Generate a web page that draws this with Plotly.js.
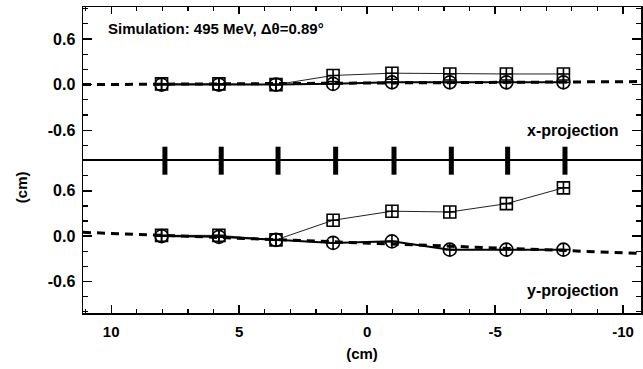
<!DOCTYPE html>
<html>
<head>
<meta charset="utf-8">
<script src="https://cdn.plot.ly/plotly-3.0.1.min.js"></script>
<style>html,body{margin:0;padding:0;background:#fff;}#chart{width:643px;height:369px;}</style>
</head>
<body>
<div id="chart"></div>
<script>
// Positions along beam (cm)
const posX = [8.03, 5.79, 3.56, 1.33, -0.97, -3.23, -5.44, -7.67];
const detectorX = [7.9, 5.7, 3.48, 1.23, -1.05, -3.29, -5.49, -7.73];

// x-projection (top panel)
const xprojSquares = [0.01, 0.01, 0.0, 0.12, 0.15, 0.14, 0.14, 0.14];
const xprojCircles = [0.0, 0.0, 0.0, 0.01, 0.03, 0.03, 0.03, 0.03];
const xprojFitX = [11.1, -10.7];
const xprojFitY = [0.0, 0.04];

// y-projection (bottom panel)
const yprojSquares = [0.01, 0.01, -0.05, 0.21, 0.33, 0.32, 0.43, 0.64];
const yprojCircles = [0.0, -0.01, -0.05, -0.09, -0.07, -0.18, -0.18, -0.18];
const yprojFitX = [11.1, -10.7];
const yprojFitY = [0.05, -0.23];

// Tick labels
const xTickVals = [10, 5, 0, -5, -10];
const xTickText = ["10", "5", "0", "-5", "-10"];
const yTickVals = [-0.6, 0, 0.6];
const yTickText = ["-0.6", "0.0", "0.6"];

const FONT = "Liberation Sans, Arial, Helvetica, sans-serif";
const bold = (s) => ({family: FONT, size: s, color: "#000", weight: "bold"});

const barY = detectorX.map(() => -1.0);

const traces = [
  {x: xprojFitX, y: xprojFitY, xaxis: "x", yaxis: "y", mode: "lines",
   line: {color: "#000", width: 3, dash: "8px,6px"}, hoverinfo: "skip"},
  {x: posX, y: xprojSquares, xaxis: "x", yaxis: "y", mode: "lines+markers",
   line: {color: "#222", width: 1},
   marker: {symbol: "square-cross-open", size: 12, color: "#000", line: {width: 1.6, color: "#000"}}},
  {x: posX, y: xprojCircles, xaxis: "x", yaxis: "y", mode: "lines+markers",
   line: {color: "#000", width: 2},
   marker: {symbol: "circle-cross-open", size: 13, color: "#000", line: {width: 1.6, color: "#000"}}},
  {x: yprojFitX, y: yprojFitY, xaxis: "x2", yaxis: "y2", mode: "lines",
   line: {color: "#000", width: 3, dash: "8px,6px"}, hoverinfo: "skip"},
  {x: posX, y: yprojSquares, xaxis: "x2", yaxis: "y2", mode: "lines+markers",
   line: {color: "#222", width: 1},
   marker: {symbol: "square-cross-open", size: 12, color: "#000", line: {width: 1.6, color: "#000"}}},
  {x: posX, y: yprojCircles, xaxis: "x2", yaxis: "y2", mode: "lines+markers",
   line: {color: "#000", width: 2},
   marker: {symbol: "circle-cross-open", size: 13, color: "#000", line: {width: 1.6, color: "#000"}}},
  {x: detectorX, y: barY, xaxis: "x", yaxis: "y", mode: "markers", cliponaxis: false,
   marker: {symbol: "line-ns", size: 20, color: "#000", line: {width: 5, color: "#000"}}}
];

const xBase = {
  range: [11.1, -10.7], showgrid: false, zeroline: false,
  showline: true, linecolor: "#000", linewidth: 1.5, mirror: true,
  ticks: "inside", ticklen: 8, tickwidth: 1.3, tickcolor: "#000",
  tickmode: "array", tickvals: xTickVals, ticktext: xTickText,
  minor: {tickmode: "linear", tick0: 0, dtick: 1, ticks: "inside", ticklen: 4, tickwidth: 1.2, tickcolor: "#000"}
};
const yBase = {
  showgrid: false, zeroline: false,
  showline: true, linecolor: "#000", linewidth: 1.5, mirror: "ticks",
  ticks: "inside", ticklen: 9, tickwidth: 1.3, tickcolor: "#000",
  tickmode: "array", tickvals: yTickVals, ticktext: yTickText,
  tickfont: bold(16), ticklabelstandoff: 3,
  minor: {tickmode: "linear", tick0: 0, dtick: 0.2, ticks: "inside", ticklen: 5, tickwidth: 1.2, tickcolor: "#000"}
};

const layout = {
  width: 643, height: 369,
  margin: {l: 83, r: 2, t: 7, b: 56},
  paper_bgcolor: "#fff", plot_bgcolor: "#fff",
  showlegend: false,
  font: bold(15),
  xaxis: Object.assign({}, xBase, {anchor: "y", side: "top", showticklabels: false, ticklen: 7, mirror: false}),
  xaxis2: Object.assign({}, xBase, {anchor: "y2", side: "bottom", showticklabels: true,
    tickfont: bold(15), ticklabelstandoff: 4,
    title: {text: "(cm)", font: bold(15), standoff: 10}}),
  yaxis: Object.assign({}, yBase, {domain: [0.4977, 1], anchor: "x", range: [-1.0, 1.02]}),
  yaxis2: Object.assign({}, yBase, {domain: [0, 0.4977], anchor: "x2", range: [-1.02, 1.0]}),
  annotations: [
    {text: "Simulation: 495 MeV, \u0394\u03b8=0.89\u00b0", xref: "x", yref: "y", x: 10.2, y: 0.74,
     xanchor: "left", yanchor: "middle", showarrow: false, font: bold(15)},
    {text: "x-projection", xref: "x", yref: "y", x: -9.9, y: -0.6,
     xanchor: "right", yanchor: "middle", showarrow: false, font: bold(16)},
    {text: "y-projection", xref: "x2", yref: "y2", x: -9.9, y: -0.72,
     xanchor: "right", yanchor: "middle", showarrow: false, font: bold(16)},
    {text: "(cm)", xref: "paper", yref: "paper", x: -0.11, y: 0.41,
     xanchor: "center", yanchor: "middle", textangle: -90, showarrow: false, font: bold(15)}
  ]
};

Plotly.newPlot("chart", traces, layout, {displayModeBar: false, staticPlot: true});
</script>
</body>
</html>
